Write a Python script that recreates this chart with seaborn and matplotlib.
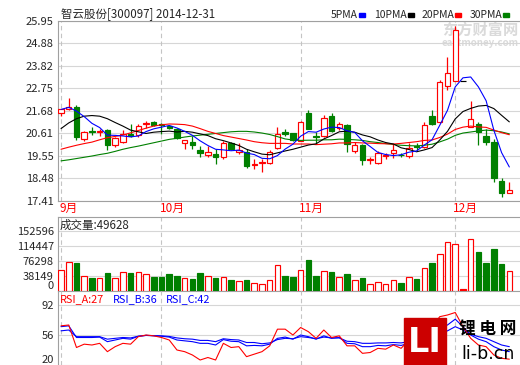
import matplotlib
matplotlib.use("Agg")
import matplotlib.pyplot as plt
from matplotlib.patches import Rectangle
import numpy as np
import pandas as pd
import seaborn as sns

# ============================================================
#  Data (300097, Sep - Dec 2014)
# ============================================================

opens = [21.55, 21.74, 21.86, 20.35, 20.73, 20.68, 20.76, 20.03, 20.19, 20.57,
         20.51, 21.04, 21.14, 21.07, 20.95, 20.82, 20.17, 20.18, 19.80, 19.58,
         19.64, 19.46, 20.16, 19.74, 19.72, 19.09, 19.20, 19.22, 19.93, 20.68,
         20.60, 20.24, 21.58, 20.47, 20.48, 21.45, 20.84, 21.00, 19.77, 20.04,
         19.33, 19.22, 19.55, 19.65, 19.60, 19.53, 20.00, 19.96, 21.42, 21.16,
         22.84, 23.10, 23.10, 20.92, 21.03, 20.46, 20.19, 18.35, 17.76]
highs = [21.76, 22.29, 21.96, 20.70, 20.92, 20.83, 20.83, 20.43, 20.76, 21.06,
         21.03, 21.18, 21.20, 21.11, 21.01, 20.87, 20.29, 20.48, 20.00, 20.00,
         19.85, 20.24, 20.19, 20.16, 19.88, 19.38, 19.40, 19.82, 20.92, 20.83,
         20.64, 21.17, 21.73, 20.66, 21.47, 21.58, 21.15, 21.06, 20.19, 20.12,
         19.46, 19.77, 19.69, 20.08, 19.69, 20.16, 20.16, 21.16, 21.69, 23.12,
         24.25, 25.70, 23.10, 22.13, 21.16, 20.79, 20.32, 18.48, 18.28]
lows = [21.41, 21.72, 20.27, 20.24, 20.52, 20.48, 19.82, 19.98, 20.16, 20.43,
        20.45, 20.87, 20.97, 20.59, 20.79, 20.35, 19.85, 19.85, 19.46, 19.50,
        19.17, 19.41, 19.80, 19.61, 18.95, 18.90, 18.75, 19.17, 19.88, 20.48,
        20.24, 20.22, 20.79, 20.12, 20.43, 20.68, 20.75, 19.74, 19.69, 19.11,
        19.17, 19.17, 19.37, 19.42, 19.46, 19.42, 19.82, 19.93, 20.98, 21.11,
        22.67, 23.07, 23.10, 20.90, 20.05, 20.05, 18.28, 17.60, 17.76]
closes = [21.74, 21.86, 20.43, 20.68, 20.69, 20.74, 20.05, 20.37, 20.56, 20.48,
          20.95, 21.08, 21.01, 21.00, 20.84, 20.38, 20.29, 20.05, 19.67, 19.74,
          19.48, 20.16, 19.85, 19.82, 19.06, 19.13, 19.25, 19.74, 20.59, 20.59,
          20.28, 21.16, 20.83, 20.44, 21.34, 20.74, 21.06, 20.08, 20.04, 19.35,
          19.37, 19.65, 19.59, 19.80, 19.56, 19.93, 19.96, 20.98, 21.06, 23.04,
          23.47, 25.51, 23.10, 21.30, 20.68, 20.18, 18.51, 17.77, 17.91]
volumes = [52300, 75000, 71500, 37100, 32800, 32100, 45500, 32100, 48000, 45500,
           48000, 42200, 35400, 35400, 42900, 37900, 32800, 30300, 45500, 37100,
           32800, 34600, 27000, 25300, 27800, 20200, 16900, 27000, 64900, 37900,
           35400, 52300, 78300, 37900, 49800, 48000, 34600, 42900, 27000, 32800,
           16900, 22000, 16900, 27000, 20200, 34600, 30300, 57300, 70700, 95200,
           125600, 120500, 5000, 133100, 98500, 71500, 106100, 68200, 49628]

ma5 = [21.74, 21.84, 21.66, 21.40, 21.08, 20.88, 20.52, 20.51, 20.48, 20.44,
       20.48, 20.69, 20.82, 20.90, 20.98, 20.86, 20.70, 20.51, 20.25, 20.03,
       19.85, 19.82, 19.78, 19.81, 19.67, 19.60, 19.42, 19.40, 19.55, 19.86,
       20.09, 20.47, 20.69, 20.66, 20.81, 20.90, 20.88, 20.73, 20.65, 20.25,
       19.98, 19.70, 19.60, 19.55, 19.59, 19.71, 19.77, 20.05, 20.30, 20.99,
       21.70, 22.81, 23.24, 23.28, 22.81, 22.15, 20.75, 19.69, 19.01]
ma10 = [20.83, 21.10, 21.30, 21.42, 21.45, 21.42, 21.30, 21.12, 20.95, 20.76,
        20.68, 20.60, 20.66, 20.69, 20.71, 20.67, 20.70, 20.66, 20.58, 20.50,
        20.35, 20.26, 20.15, 20.03, 19.85, 19.73, 19.62, 19.59, 19.68, 19.77,
        19.85, 19.95, 20.05, 20.11, 20.34, 20.50, 20.68, 20.71, 20.66, 20.53,
        20.44, 20.29, 20.17, 20.10, 19.92, 19.84, 19.73, 19.82, 19.93, 20.29,
        20.70, 21.29, 21.64, 21.79, 21.90, 21.93, 21.78, 21.46, 21.15]
ma20 = [19.85, 19.95, 20.04, 20.12, 20.19, 20.30, 20.40, 20.46, 20.52, 20.63,
        20.74, 20.85, 20.95, 21.01, 21.05, 21.04, 21.02, 20.95, 20.83, 20.70,
        20.60, 20.50, 20.43, 20.36, 20.29, 20.21, 20.16, 20.13, 20.13, 20.13,
        20.10, 20.10, 20.10, 20.07, 20.09, 20.11, 20.15, 20.15, 20.17, 20.15,
        20.14, 20.12, 20.11, 20.10, 20.13, 20.17, 20.21, 20.27, 20.29, 20.41,
        20.57, 20.79, 20.90, 20.95, 20.91, 20.89, 20.76, 20.64, 20.54]
ma30 = [19.30, 19.35, 19.41, 19.47, 19.53, 19.60, 19.66, 19.75, 19.85, 19.93,
        20.00, 20.08, 20.16, 20.24, 20.32, 20.37, 20.43, 20.48, 20.52, 20.56,
        20.60, 20.64, 20.68, 20.70, 20.70, 20.67, 20.62, 20.55, 20.45, 20.34,
        20.29, 20.27, 20.28, 20.28, 20.30, 20.30, 20.33, 20.32, 20.30, 20.27,
        20.21, 20.17, 20.12, 20.08, 20.04, 20.02, 20.01, 20.04, 20.09, 20.20,
        20.33, 20.51, 20.62, 20.67, 20.72, 20.76, 20.73, 20.67, 20.58]

rsi_a = [67, 68, 41, 45, 44, 46, 36, 42, 46, 45,
         54, 56, 55, 53, 50, 38, 36, 32, 26, 29,
         26, 46, 41, 42, 30, 33, 36, 43, 63, 63,
         56, 65, 60, 52, 62, 53, 55, 43, 43, 34,
         35, 40, 39, 44, 40, 50, 50, 68, 66, 78,
         80, 83, 66, 52, 44, 42, 32, 28, 27]
rsi_b = [66, 67, 53, 53, 53, 53.5, 48, 50, 52, 51,
         54.5, 55.5, 55, 54.5, 53.5, 50, 49, 48, 46, 46,
         44, 50.5, 48.5, 48, 43, 43.5, 43, 45, 52, 53.5,
         51, 56, 54, 51, 55, 52, 53, 46, 45.5, 42,
         42, 43.5, 43, 44.5, 43.5, 46, 46, 56, 56, 65,
         68, 75, 66, 56, 51, 48, 42, 38, 36]
rsi_c = [61, 62, 54, 54, 54, 54, 51, 52, 53, 52.5,
         54.5, 55.5, 55.3, 55, 54.3, 52.5, 51.5, 51, 49.5, 49.5,
         48, 51.5, 50.5, 50, 47, 47, 45.5, 46.5, 50.5, 52,
         51.5, 54, 53, 51.5, 53.5, 52.5, 52.5, 48.5, 48, 46,
         46, 46.5, 46.5, 47, 46.5, 48, 48, 53, 53, 58,
         61, 66, 62, 57, 54, 52, 48, 44, 42]

price_ticks = [17.41, 18.48, 19.55, 20.61, 21.68, 22.75, 23.82, 24.88, 25.95]
volume_ticks = [0, 38149, 76298, 114447, 152596]
rsi_ticks = [20, 56, 92]
month_pos = [0, 13, 31, 51]
month_labels = ['9月', '10月', '11月', '12月']
ma_names = ['5PMA', '10PMA', '20PMA', '30PMA']

RED = '#ff0000'
GREEN = '#008000'
BLUE = '#0000ff'
EDGE = '#a0a0a0'
GRID = '#d6d6d6'
ma_colors = [BLUE, 'black', RED, GREEN]

# ============================================================
#  Figure setup
# ============================================================

sns.set_style("white")
plt.rcParams['font.family'] = ['Noto Sans CJK SC', 'DejaVu Sans']

W, H = 520, 365
fig = plt.figure(figsize=(W / 100, H / 100), dpi=100)


def px_box(l, t, r, b):
    return [l / W, 1 - b / H, (r - l) / W, (b - t) / H]


def ftxt(x, y, s, **kw):
    fig.text(x / W, 1 - y / H, s, va='center', **kw)


ax = fig.add_axes(px_box(58, 20.7, 520, 200.7))
axv = fig.add_axes(px_box(58, 216.7, 520, 291))
axr = fig.add_axes(px_box(58, 291, 520, 365))

df = pd.DataFrame({'idx': np.arange(len(closes)), 'open': opens, 'high': highs,
                   'low': lows, 'close': closes, 'volume': volumes,
                   'ma5': ma5, 'ma10': ma10, 'ma20': ma20, 'ma30': ma30,
                   'rsi_a': rsi_a, 'rsi_b': rsi_b, 'rsi_c': rsi_c})

o = df['open'].values
c = df['close'].values
body_edge = np.where(c > o, RED, np.where(c < o, GREEN, 'black'))
body_face = np.where(c > o, 'white', np.where(c < o, GREEN, 'black'))
vol_edge = np.where(c < o, GREEN, RED)
vol_face = np.where(c > o, 'white', np.where(c < o, GREEN, RED))

# ---- candles
ax.vlines(df['idx'], df['low'], df['high'], colors=body_edge, lw=0.9, zorder=3)
ax.bar(df['idx'], c - o, bottom=o, width=0.7, color=body_face,
       edgecolor=body_edge, linewidth=0.85, zorder=4)

# ---- moving averages
for col, color in zip(['ma30', 'ma20', 'ma10', 'ma5'], [GREEN, RED, 'black', BLUE]):
    sns.lineplot(data=df, x='idx', y=col, ax=ax, color=color, linewidth=0.8,
                 zorder=5, legend=False)

# ---- volume
axv.bar(df['idx'], df['volume'], width=0.72, color=vol_face,
        edgecolor=vol_edge, linewidth=0.85, zorder=3)

# ---- RSI
sns.lineplot(data=df, x='idx', y='rsi_c', ax=axr, color=BLUE, linewidth=0.8, zorder=3)
sns.lineplot(data=df, x='idx', y='rsi_b', ax=axr, color=BLUE, linewidth=0.8, zorder=3)
sns.lineplot(data=df, x='idx', y='rsi_a', ax=axr, color=RED, linewidth=0.8, zorder=4)


def style_axes(a, ticks, labels, ylim, top=True):
    a.set_xlim(-0.39, 59.38)
    a.set_ylim(*ylim)
    a.set_yticks(ticks)
    a.set_yticklabels(labels)
    a.set_xticks([])
    a.set_xlabel('')
    a.set_ylabel('')
    a.tick_params(axis='y', length=0, pad=3, labelsize=8)
    a.grid(axis='y', color=GRID, lw=0.8)
    a.set_axisbelow(True)
    a.patch.set_alpha(0)
    a.spines['right'].set_visible(False)
    for s in ['left', 'top', 'bottom']:
        a.spines[s].set_color(EDGE)
        a.spines[s].set_linewidth(0.8)
    a.spines['top'].set_visible(top)
    for p in month_pos:
        a.axvline(p, color='#c4c4c4', ls=(0, (4, 3)), lw=0.8, zorder=1)


style_axes(ax, price_ticks, [f"{v:.2f}" for v in price_ticks], (17.41, 25.95))
style_axes(axv, volume_ticks, [str(v) for v in volume_ticks], (0, 189000))
style_axes(axr, rsi_ticks, [str(v) for v in rsi_ticks], (20, 108.8), top=False)
axv.get_yticklabels()[0].set_va('bottom')
axr.get_yticklabels()[0].set_va('bottom')
axr.spines['bottom'].set_visible(False)

# month labels under the price panel
for p, lab in zip(month_pos, month_labels):
    ax.text(p - 0.25, -0.042, lab, transform=ax.get_xaxis_transform(),
            color=RED, fontsize=8.5, ha='left', va='center')

# ---- header texts
ftxt(61, 14, '智云股份[300097] 2014-12-31', fontsize=8.3)
for name, color, tx, sx in zip(ma_names, ma_colors, [331, 374, 422, 470], [359, 408, 455, 503]):
    ftxt(tx, 14.5, name, fontsize=7.5)
    fig.add_artist(Rectangle((sx / W, 1 - 16.5 / H), 6 / W, 3.5 / H,
                             transform=fig.transFigure, color=color))

ftxt(60, 225, f"成交量:{volumes[-1]}", fontsize=8.3)
ftxt(60, 299, f"RSI_A:{rsi_a[-1]}", fontsize=7.8, color=RED)
ftxt(113, 299, f"RSI_B:{rsi_b[-1]}", fontsize=7.8, color=BLUE)
ftxt(166, 299, f"RSI_C:{rsi_c[-1]}", fontsize=7.8, color=BLUE)

# ---- watermarks
fig.text(480 / W, 1 - 30 / H, '东方财富网', fontsize=11, fontweight='bold',
         color='#dadada', ha='center', va='center', zorder=-1)
fig.text(480 / W, 1 - 43 / H, 'eastmoney.com', fontsize=7, fontweight='bold',
         color='#dadada', ha='center', va='center', zorder=-1, style='italic')

fig.add_artist(Rectangle((404 / W, 0), 42 / W, 47 / H,
                         transform=fig.transFigure, color='#cc0000'))
fig.text(425 / W, 1 - 342 / H, 'LI', fontsize=24, fontweight='bold',
         family='DejaVu Sans', color='white', ha='center', va='center')
fig.text(488 / W, 1 - 330 / H, '锂 电 网', fontsize=12, fontweight='bold',
         color='black', ha='center', va='center')
fig.text(488 / W, 1 - 354 / H, 'li-b.cn', fontsize=12.5, family='DejaVu Sans',
         color='black', ha='center', va='center')

fig.savefig('out.png', dpi=100, facecolor='white')
